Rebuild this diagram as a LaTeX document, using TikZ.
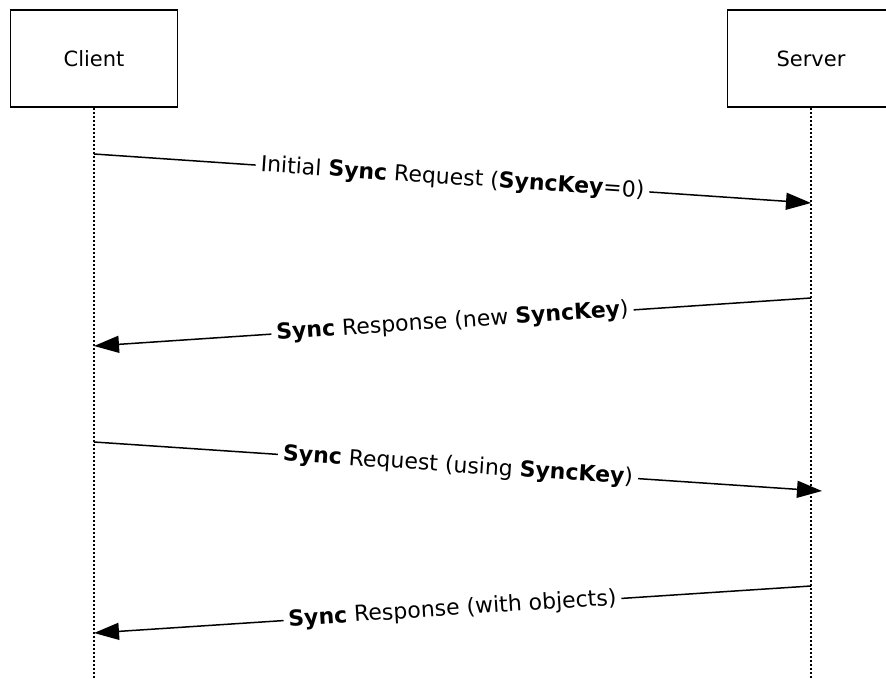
\documentclass[tikz,border=0pt]{standalone}
\usepackage{fontspec}
\setmainfont{DejaVu Sans}
\usetikzlibrary{arrows.meta}
\begin{document}
\begin{tikzpicture}[x=1pt,y=-1pt,
  actor/.style={draw=black, line width=1.6pt, minimum width=167pt, minimum height=97pt, inner sep=0pt, font=\fontsize{21}{25}\selectfont},
  lifeline/.style={draw=black, line width=1.6pt, dash pattern=on 2pt off 2pt},
  msg/.style={draw=black, line width=1.5pt, -{Triangle[length=25pt,width=17pt]}},
  lbl/.style={fill=white, inner sep=5pt, sloped, font=\fontsize{22}{26}\selectfont}]
\useasboundingbox (0,0) rectangle (886,679);
\clip (0,0) rectangle (886,679);
\node[actor] (client) at (94,58.5) {Client};
\node[actor] (server) at (811,58.5) {Server};
\coordinate (cend) at (94,679);
\coordinate (send) at (811,679);
\draw[lifeline] (client.south) -- (cend);
\draw[lifeline] (server.south) -- (send);
\coordinate (m1a) at (94,154);
\coordinate (m1b) at (811,203);
\coordinate (m2a) at (811,298);
\coordinate (m2b) at (94,346);
\coordinate (m3a) at (94,442);
\coordinate (m3b) at (822,491);
\coordinate (m4a) at (811,586);
\coordinate (m4b) at (94,633);
\draw[msg] (m1a) -- node[lbl] {Initial \textbf{Sync} Request (\textbf{SyncKey}=0)} (m1b);
\draw[msg] (m2a) -- node[lbl] {\textbf{Sync} Response (new \textbf{SyncKey})} (m2b);
\draw[msg] (m3a) -- node[lbl] {\textbf{Sync} Request (using \textbf{SyncKey})} (m3b);
\draw[msg] (m4a) -- node[lbl] {\textbf{Sync} Response (with objects)} (m4b);
\end{tikzpicture}
\end{document}
